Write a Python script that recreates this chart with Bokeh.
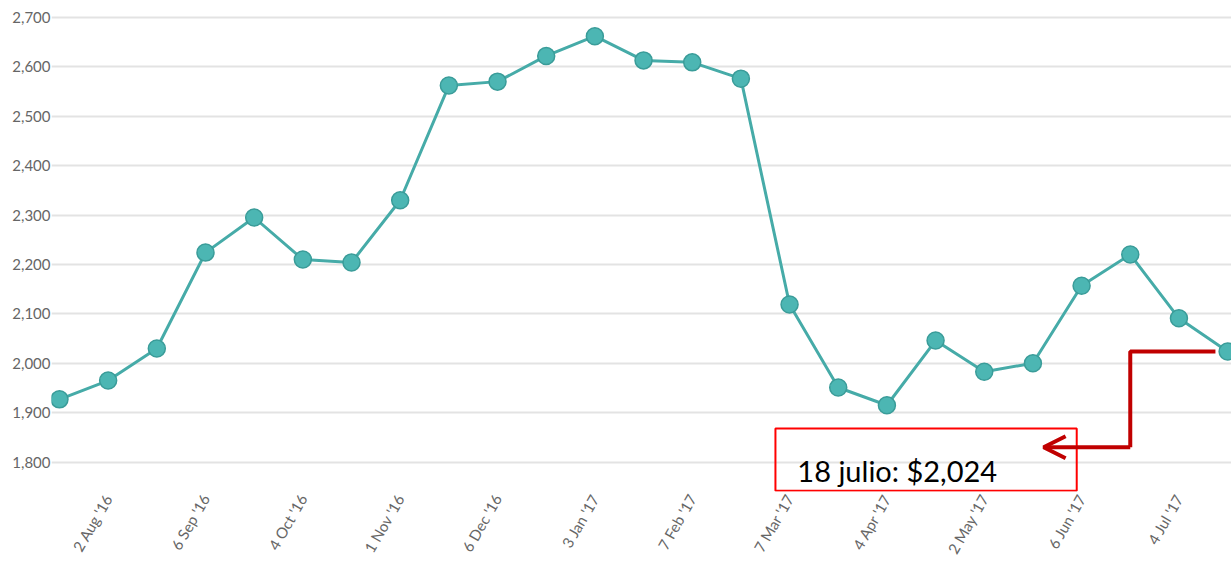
import math
from bokeh.plotting import figure
from bokeh.models import (FixedTicker, NumeralTickFormatter, Range1d, BoxAnnotation,
                          Arrow, OpenHead, ColumnDataSource)
from bokeh.core.properties import value
from bokeh.embed import file_html
from bokeh.resources import INLINE

# ---- data ----
dates = ["19 Jul '16", "2 Aug '16", "16 Aug '16", "6 Sep '16", "20 Sep '16", "4 Oct '16",
         "18 Oct '16", "1 Nov '16", "15 Nov '16", "6 Dec '16", "20 Dec '16", "3 Jan '17",
         "17 Jan '17", "7 Feb '17", "21 Feb '17", "7 Mar '17", "21 Mar '17", "4 Apr '17",
         "18 Apr '17", "2 May '17", "16 May '17", "6 Jun '17", "20 Jun '17", "4 Jul '17",
         "18 Jul '17"]
prices = [1927, 1965, 2030, 2224, 2295, 2210, 2204, 2330, 2562, 2570, 2622, 2662,
          2613, 2609, 2576, 2119, 1951, 1915, 2046, 1983, 2000, 2157, 2220, 2091, 2024]
y_ticks = [1800, 1900, 2000, 2100, 2200, 2300, 2400, 2500, 2600, 2700]
label_idx = list(range(1, len(dates), 2))
annotation_text = "18 julio: $2,024"

xs = list(range(len(prices)))
src = ColumnDataSource(dict(x=xs, y=prices))

p = figure(width=1231, height=564, output_backend="svg", toolbar_location=None,
           x_range=Range1d(-0.164, 24.08), y_range=Range1d(1740.5, 2718),
           min_border_left=51, min_border_right=0, min_border_top=8, min_border_bottom=73)
p.outline_line_color = None
p.background_fill_color = "white"
p.border_fill_color = "white"

# axes
p.yaxis.ticker = FixedTicker(ticks=y_ticks)
p.yaxis.formatter = NumeralTickFormatter(format="0,0")
p.yaxis.axis_line_color = None
p.yaxis.major_tick_line_color = None
p.yaxis.minor_tick_line_color = None
p.yaxis.major_tick_out = 0
p.yaxis.major_tick_in = 0
p.yaxis.major_label_standoff = 1
p.yaxis.major_label_text_font = "Lato"
p.yaxis.major_label_text_font_size = "15px"
p.yaxis.major_label_text_color = "#666666"

p.xaxis.ticker = FixedTicker(ticks=label_idx)
p.xaxis.major_label_overrides = {i: dates[i] for i in label_idx}
p.xaxis.axis_line_color = None
p.xaxis.major_tick_line_color = None
p.xaxis.minor_tick_line_color = None
p.xaxis.major_tick_out = 0
p.xaxis.major_tick_in = 0
p.xaxis.major_label_orientation = math.pi / 3
p.xaxis.major_label_standoff = 4
p.xaxis.major_label_text_font = "Lato"
p.xaxis.major_label_text_font_size = "15px"
p.xaxis.major_label_text_color = "#666666"

p.xgrid.grid_line_color = None
p.ygrid.grid_line_color = "#e3e3e3"
p.ygrid.grid_line_width = 2

# series
p.line("x", "y", source=src, line_color="#46aba8", line_width=3)
p.scatter("x", "y", source=src, size=17, fill_color="#4cb6b3",
          line_color="#3a9c99", line_width=1.5)

# annotation
box = BoxAnnotation(left=14.71, right=20.9, bottom=1742, top=1868,
                    fill_color=None, fill_alpha=0, line_color="#ff0000", line_alpha=1.0,
                    line_width=2)
p.add_layout(box)
p.text(x=[15.16], y=[1783], text=[annotation_text], text_font=value("Lato"),
       text_font_size="29px", text_color="#000000", text_baseline="alphabetic",
       text_align="left")
p.line(x=[23.75, 22, 22], y=[prices[-1], prices[-1], 1830], line_color="#c00000",
       line_width=4)
p.add_layout(Arrow(x_start=22, y_start=1830, x_end=20.22, y_end=1830,
                   line_color="#c00000", line_width=4,
                   end=OpenHead(size=22, line_color="#c00000", line_width=4)))

open("out.html", "w").write(file_html(p, INLINE))
